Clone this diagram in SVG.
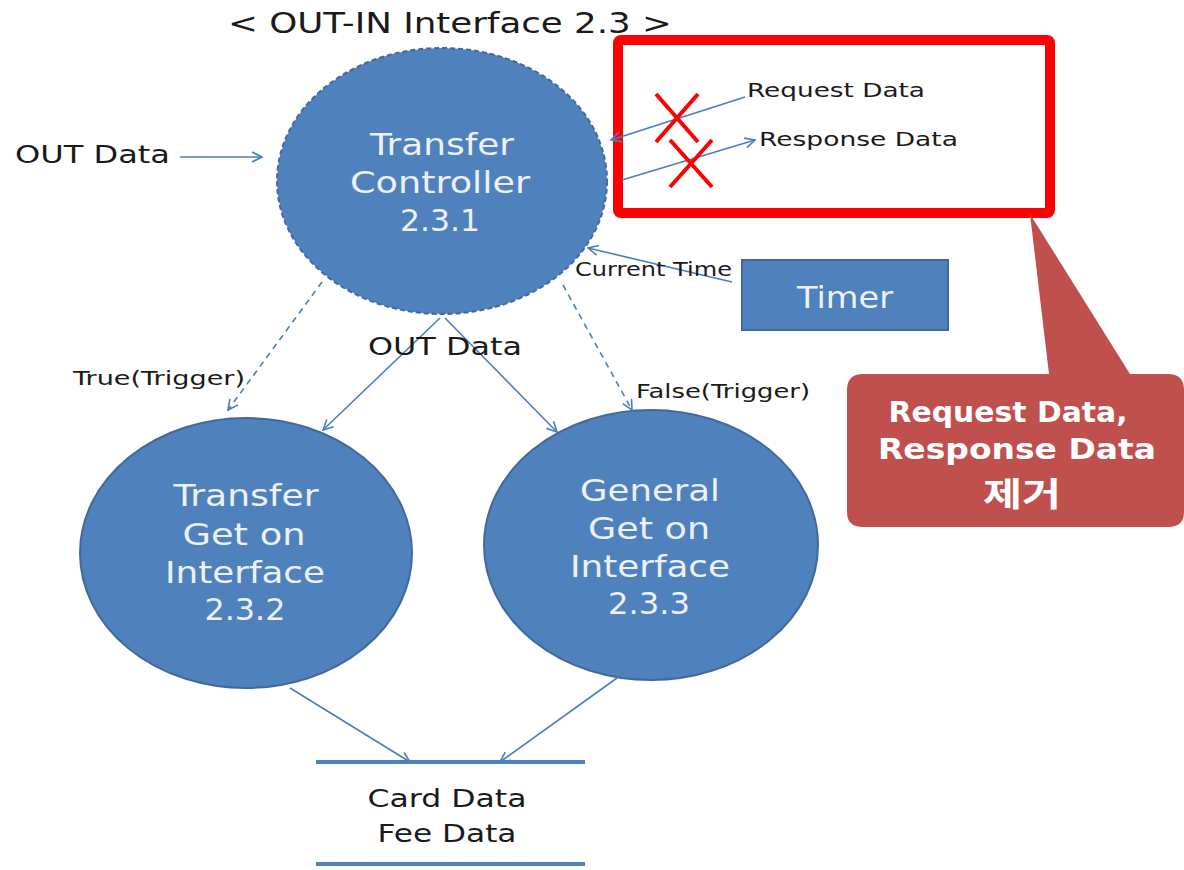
<svg xmlns="http://www.w3.org/2000/svg" width="1184" height="870" viewBox="0 0 1184 870">
<defs>
<style>
.t{font-family:"DejaVu Sans","Liberation Sans",sans-serif;fill:#1a1a1a}
.w{font-family:"DejaVu Sans","Liberation Sans",sans-serif;fill:#eef2f8;font-size:30px;text-anchor:middle}
.node{fill:#4f81bd;stroke:#41699b;stroke-width:2}
.ln{stroke:#4a7ebb;stroke-width:1.6;fill:none}
.x{stroke:#ff0000;stroke-width:4;fill:none}
.cb{font-family:"DejaVu Sans","Liberation Sans",sans-serif;font-weight:bold;font-size:29px;fill:#ffffff;text-anchor:middle}
</style>
<marker id="ah" viewBox="0 0 12 12" refX="11" refY="6" markerWidth="12" markerHeight="12" markerUnits="userSpaceOnUse" orient="auto">
<path d="M1,1 L11,6 L1,11" fill="none" stroke="#4a7ebb" stroke-width="1.6"/>
</marker>
</defs>
<rect width="1184" height="870" fill="#ffffff"/>
<text class="t" x="228" y="33" font-size="29" textLength="444" lengthAdjust="spacingAndGlyphs">&lt; OUT-IN Interface 2.3 &gt;</text>

<g id="transfer-controller">
<ellipse class="node" cx="442" cy="181" rx="165" ry="133" stroke-dasharray="5,3" stroke="#385d8a"/>
<text class="w" x="442" y="155" textLength="144" lengthAdjust="spacingAndGlyphs">Transfer</text>
<text class="w" x="440" y="193" textLength="180" lengthAdjust="spacingAndGlyphs">Controller</text>
<text class="w" x="440" y="231" textLength="80" lengthAdjust="spacingAndGlyphs">2.3.1</text>
</g>

<g id="transfer-get-on">
<ellipse class="node" cx="246" cy="553" rx="166" ry="135"/>
<text class="w" x="246" y="506" textLength="145" lengthAdjust="spacingAndGlyphs">Transfer</text>
<text class="w" x="244" y="545" textLength="123" lengthAdjust="spacingAndGlyphs">Get on</text>
<text class="w" x="245" y="583" textLength="160" lengthAdjust="spacingAndGlyphs">Interface</text>
<text class="w" x="245" y="620" textLength="81" lengthAdjust="spacingAndGlyphs">2.3.2</text>
</g>

<g id="general-get-on">
<ellipse class="node" cx="651" cy="545" rx="167" ry="135"/>
<text class="w" x="650" y="501" textLength="140" lengthAdjust="spacingAndGlyphs">General</text>
<text class="w" x="649" y="539" textLength="122" lengthAdjust="spacingAndGlyphs">Get on</text>
<text class="w" x="650" y="577" textLength="160" lengthAdjust="spacingAndGlyphs">Interface</text>
<text class="w" x="649" y="614" textLength="82" lengthAdjust="spacingAndGlyphs">2.3.3</text>
</g>

<g id="timer">
<rect class="node" x="742" y="260" width="206" height="70"/>
<text class="w" x="845" y="308" font-size="29" textLength="96" lengthAdjust="spacingAndGlyphs">Timer</text>
</g>

<g id="data-store">
<line x1="316" y1="762" x2="585" y2="762" stroke="#4f81bd" stroke-width="4"/>
<line x1="316" y1="864" x2="585" y2="864" stroke="#4f81bd" stroke-width="4"/>
<text class="t" x="447" y="807" font-size="24" text-anchor="middle" textLength="159" lengthAdjust="spacingAndGlyphs">Card Data</text>
<text class="t" x="447" y="842" font-size="24" text-anchor="middle" textLength="139" lengthAdjust="spacingAndGlyphs">Fee Data</text>
</g>

<g id="removed-box">
<rect x="618" y="40" width="432" height="173" rx="3" fill="none" stroke="#ff0000" stroke-width="10"/>
</g>

<g id="callout">
<path d="M1030,214 L1130,374 L1168,374 Q1184,374 1184,390 L1184,512 Q1184,527 1168,527 L863,527 Q847,527 847,512 L847,390 Q847,374 863,374 L1049,374 Z" fill="#c0504d"/>
<text class="cb" x="1008" y="422" textLength="239" lengthAdjust="spacingAndGlyphs">Request Data,</text>
<text class="cb" x="1017" y="459" textLength="278" lengthAdjust="spacingAndGlyphs">Response Data</text>
<text x="1022" y="506" font-family="'Noto Sans CJK KR',sans-serif" font-weight="bold" font-size="33" fill="#ffffff" text-anchor="middle" textLength="78" lengthAdjust="spacingAndGlyphs">제거</text>
</g>

<g id="connectors">
<text class="t" x="15" y="163" font-size="24" textLength="155" lengthAdjust="spacingAndGlyphs">OUT Data</text>
<line class="ln" x1="180" y1="157" x2="262" y2="157" marker-end="url(#ah)"/>
<line class="ln" x1="745" y1="97" x2="611" y2="140" marker-end="url(#ah)"/>
<text class="t" x="747" y="97" font-size="20" textLength="178" lengthAdjust="spacingAndGlyphs">Request Data</text>
<line class="ln" x1="622" y1="180" x2="755" y2="140" marker-end="url(#ah)"/>
<text class="t" x="759" y="146" font-size="20" textLength="199" lengthAdjust="spacingAndGlyphs">Response Data</text>
<path class="x" d="M656,94 L698,142 M698,94 L656,142"/>
<path class="x" d="M670,140 L712,187 M712,140 L670,187"/>
<line class="ln" x1="732" y1="282" x2="588" y2="248" marker-end="url(#ah)"/>
<text class="t" x="575" y="276" font-size="19" textLength="157" lengthAdjust="spacingAndGlyphs">Current Time</text>
<line class="ln" x1="322" y1="282" x2="228" y2="410" stroke-dasharray="6,5" marker-end="url(#ah)"/>
<text class="t" x="73" y="385" font-size="19" textLength="172" lengthAdjust="spacingAndGlyphs">True(Trigger)</text>
<line class="ln" x1="563" y1="285" x2="632" y2="410" stroke-dasharray="6,5" marker-end="url(#ah)"/>
<text class="t" x="636" y="398" font-size="19" textLength="174" lengthAdjust="spacingAndGlyphs">False(Trigger)</text>
<line class="ln" x1="440" y1="318" x2="323" y2="430" marker-end="url(#ah)"/>
<line class="ln" x1="445" y1="318" x2="557" y2="432" marker-end="url(#ah)"/>
<text class="t" x="445" y="355" font-size="24" text-anchor="middle" textLength="154" lengthAdjust="spacingAndGlyphs">OUT Data</text>
<line class="ln" x1="290" y1="688" x2="410" y2="762" marker-end="url(#ah)"/>
<line class="ln" x1="617" y1="678" x2="500" y2="762" marker-end="url(#ah)"/>
</g>
</svg>
